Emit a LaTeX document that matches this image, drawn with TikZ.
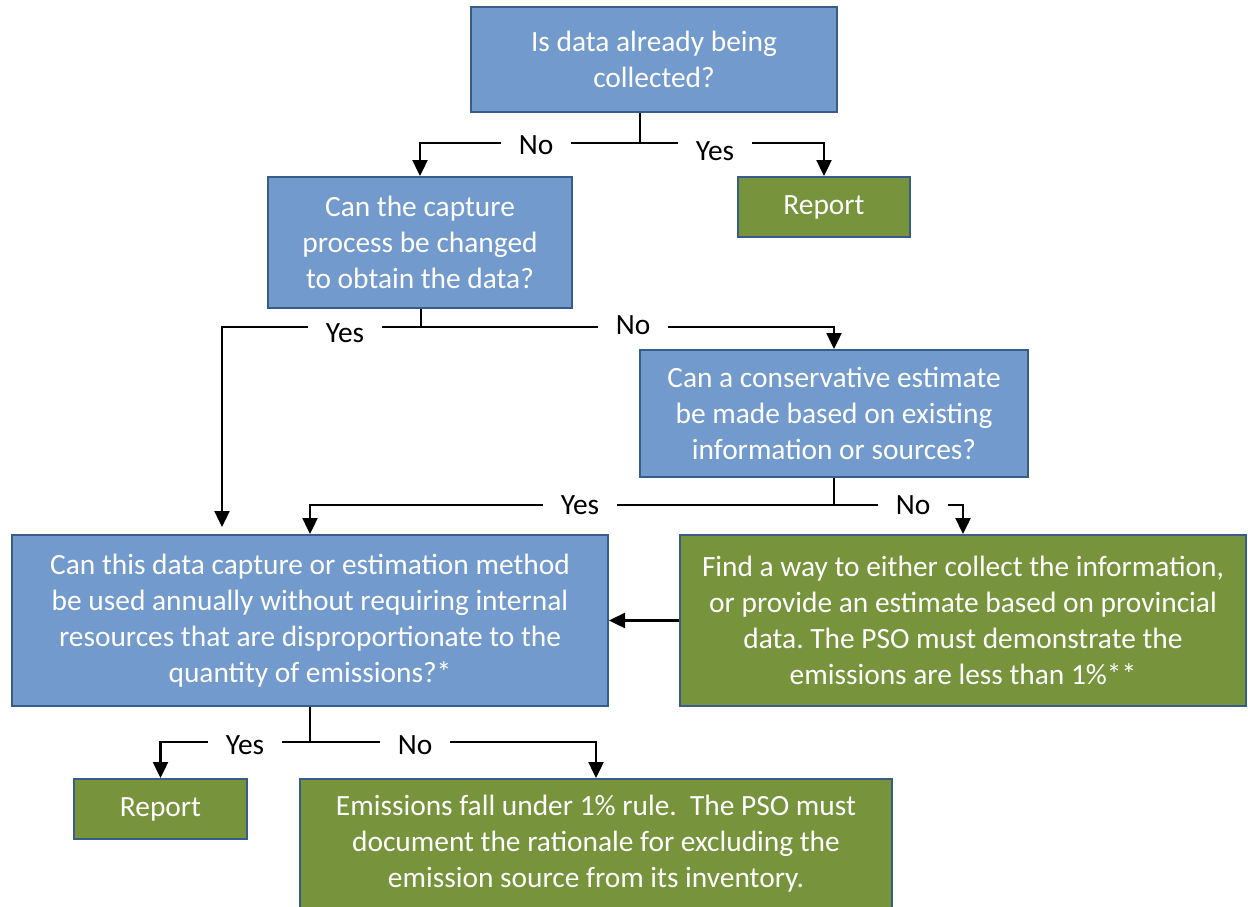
\documentclass[tikz,border=0pt]{standalone}
\usepackage{fontspec}
\setmainfont{Carlito}
\usetikzlibrary{arrows.meta}

\definecolor{qblue}{RGB}{115,154,205}
\definecolor{agreen}{RGB}{119,147,60}
\definecolor{edgeblue}{RGB}{56,93,138}

\begin{document}
\frenchspacing
\begin{tikzpicture}[
    x=1pt, y=-1pt,
    question/.style={rectangle, draw=edgeblue, line width=2pt, fill=qblue, text=white, align=center, font=\fontsize{29.4}{36}\selectfont},
    action/.style={question, fill=agreen},
    answer/.style={fill=white, inner xsep=18pt, inner ysep=2pt, font=\fontsize{29.4}{36}\selectfont},
    line/.style={line width=2.4pt},
    arrow/.style={line, -{Triangle[length=16pt,width=15pt]}}
]
\clip (0,0) rectangle (1248,907);

\node[question, minimum width=366, minimum height=105] (q1) at (654,59.5) {
    Is data already being\\
    collected?
};

\node[action, minimum width=172, minimum height=60] (rep1) at (824,207) {Report};

\node[question, minimum width=304, minimum height=131] (q2) at (420,242.5) {
    Can the capture\\
    process be changed\\
    to obtain the data?
};

\node[question, minimum width=388, minimum height=127] (q3) at (834,413.5) {
    Can a conservative estimate\\
    be made based on existing\\
    information or sources?
};

\node[question, minimum width=596, minimum height=171] (q4) at (310,620.5) {
    Can this data capture or estimation method\\
    be used annually without requiring internal\\
    resources that are disproportionate to the\\
    quantity of emissions?*
};

\node[action, minimum width=566, minimum height=171] (find) at (963,620.5) {
    Find a way to either collect the information,\\
    or provide an estimate based on provincial\\
    data. The PSO must demonstrate the\\
    emissions are less than 1\%**
};

\node[action, minimum width=173, minimum height=60] (rep2) at (160.5,809) {Report};

\node[action, minimum width=592, minimum height=130] (rule) at (596,844) {
    Emissions fall under 1\% rule.~ The PSO must\\
    document the rationale for excluding the\\
    emission source from its inventory.
};

% branch points
\coordinate (b1) at (640,143);
\coordinate (b2) at (421,327);
\coordinate (e2) at (222,527);
\coordinate (b3) at (834,505);
\coordinate (b5) at (310,742);

\draw[line] (q1.south -| b1) -- (b1);
\draw[arrow] (b1) -| (q2.north);
\draw[arrow] (b1) -| (rep1.north);
\node[answer] (no1) at (536,145) {No};
\node[answer] (yes1) at (715,151) {Yes};

\draw[line] (q2.south -| b2) -- (b2);
\draw[arrow] (b2) -| (e2);
\draw[arrow] (b2) -| (q3.north);
\node[answer] (yes2) at (345,333) {Yes};
\node[answer] (no2) at (633,325) {No};

\draw[line] (q3.south) -- (b3);
\draw[arrow] (b3) -| (q4.north);
\draw[arrow] (b3) -| (find.north);
\node[answer] (yes3) at (580,505) {Yes};
\node[answer] (no3) at (913,505) {No};

\draw[arrow] (find.west) -- (q4.east);

\draw[line] (q4.south) -- (b5);
\draw[arrow] (b5) -| (rep2.north);
\draw[arrow] (b5) -| (rule.north);
\node[answer] (yes5) at (245,745) {Yes};
\node[answer] (no5) at (415,745) {No};

\end{tikzpicture}
\end{document}
